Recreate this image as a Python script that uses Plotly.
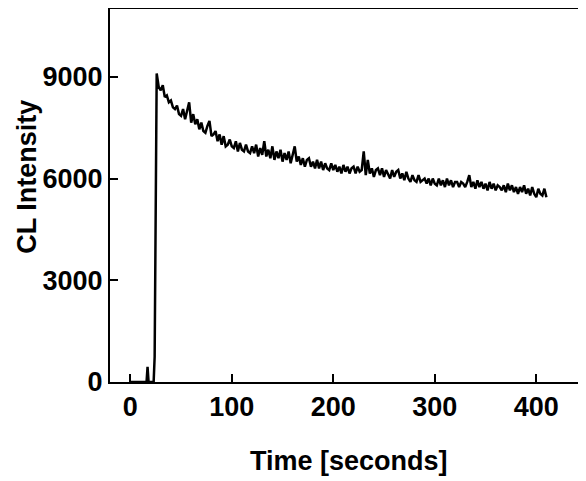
import plotly.graph_objects as go

# baseline before injection (1 s steps), then decay trace (2 s steps)
t_base = list(range(0, 26))
cl_base = [0, 0, 0, 0, 0, 0, 0, 0, 0, 0, 0, 0, 0, 0, 0, 0,
           0, 450, 0, 0, 0, 0, 0, 0, 750, 5300]

t_decay = list(range(26, 411, 2))
cl_decay = [
    9100, 8700, 8600, 8750, 8400, 8450, 8250, 8300, 8100, 8050,
    8150, 7900, 7850, 8050, 7750, 8000, 8250, 7650, 7900, 7600,
    7750, 7450, 7650, 7400, 7350, 7550, 7700, 7250, 7300, 7400,
    7100, 7300, 7000, 7250, 6950, 7000, 7150, 6950, 6900, 7100,
    6800, 7050, 6850, 6800, 7000, 6800, 6750, 6950, 6750, 7000,
    6650, 6900, 6700, 7100, 6650, 6850, 6600, 6950, 6550, 6800,
    6600, 6850, 6500, 6750, 6550, 6800, 6450, 6700, 6950, 6500,
    6650, 6400, 6600, 6350, 6550, 6600, 6350, 6500, 6300, 6550,
    6300, 6500, 6250, 6450, 6300, 6250, 6450, 6250, 6400, 6200,
    6350, 6150, 6400, 6200, 6350, 6150, 6300, 6350, 6150, 6350,
    6200, 6250, 6800, 6100, 6550, 6150, 6300, 6050, 6250, 6300,
    6100, 6300, 6050, 6250, 6100, 6000, 6250, 6050, 6200, 6250,
    6000, 6150, 5950, 6200, 6000, 5900, 6100, 5950, 5900, 6100,
    5900, 5950, 6000, 5850, 6000, 5800, 6000, 5850, 5800, 6000,
    5800, 5950, 5750, 6000, 5800, 5950, 5750, 5900, 5900, 5750,
    5900, 5850, 5750, 5900, 6100, 5750, 5900, 5700, 5950, 5750,
    5900, 5700, 5850, 5650, 5900, 5700, 5850, 5650, 5800, 5750,
    5650, 5800, 5600, 5850, 5650, 5800, 5600, 5750, 5550, 5750,
    5600, 5800, 5550, 5700, 5500, 5750, 5550, 5450, 5700, 5550,
    5500, 5700, 5450,
]

x_ticks = [0, 100, 200, 300, 400]
y_ticks = [0, 3000, 6000, 9000]

fig = go.Figure(go.Scatter(
    x=t_base + t_decay,
    y=cl_base + cl_decay,
    mode="lines",
    line={'color': "black", 'width': 2.5},
))

font_bold = {'family': "Liberation Sans, Arial", 'size': 27, 'color': "black", 'weight': "bold"}

# page has an 8px body margin, so the figure is drawn 8px smaller
fig.update_layout(
    width=578, height=473,
    margin={'l': 102, 'r': 0, 't': 1, 'b': 99},
    paper_bgcolor="white", plot_bgcolor="white",
    showlegend=False,
    xaxis={
        'range': [-20, 449], 'tickvals': x_ticks,
        'ticks': "inside", 'ticklen': 8, 'tickwidth': 2, 'tickcolor': "black",
        'showline': True, 'linecolor': "black", 'linewidth': 2, 'mirror': True,
        'showgrid': False, 'zeroline': False, 'tickfont': font_bold,
    },
    yaxis={
        'range': [0, 11000], 'tickvals': y_ticks,
        'ticks': "inside", 'ticklen': 8, 'tickwidth': 2, 'tickcolor': "black",
        'showline': True, 'linecolor': "black", 'linewidth': 2,
        'showgrid': False, 'zeroline': False, 'tickfont': font_bold,
    },
    annotations=[
        dict(text="Time [seconds]", xref="paper", yref="paper", x=0.502, y=0,
             xanchor="center", yanchor="top", yshift=-62, showarrow=False,
             font={**font_bold, 'size': 27}),
        dict(text="CL Intensity", xref="paper", yref="paper", x=0, y=0.55,
             xanchor="center", yanchor="middle", xshift=-83, textangle=-90,
             showarrow=False, font={**font_bold, 'size': 27}),
    ],
)

fig.write_html("out.html")
